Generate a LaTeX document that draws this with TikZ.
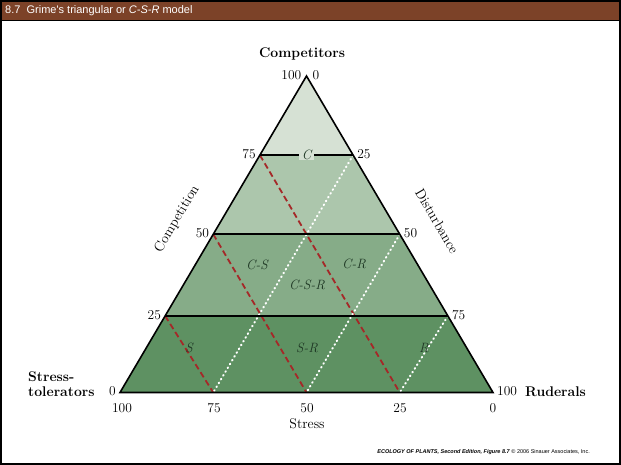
\documentclass[tikz,border=0pt]{standalone}
\usepackage{fontspec}
\newfontfamily\hdfont{Liberation Sans}
\usetikzlibrary{calc}
\definecolor{hdbrown}{RGB}{124,66,40}
\definecolor{zoneA}{RGB}{214,225,212}
\definecolor{zoneB}{RGB}{172,198,172}
\definecolor{zoneC}{RGB}{134,172,136}
\definecolor{zoneD}{RGB}{94,145,98}
\definecolor{redd}{RGB}{165,40,40}
\definecolor{zonetext}{RGB}{30,55,36}
\tikzset{
  tick/.style={font=\fontsize{13.5}{14}\selectfont, inner sep=1pt},
  vlabel/.style={font=\fontsize{14}{15}\selectfont\bfseries, inner sep=0pt},
  axlabel/.style={font=\fontsize{14}{15}\selectfont, inner sep=0pt},
  zlabel/.style={font=\fontsize{13.5}{14}\selectfont\itshape, text=zonetext, inner sep=1pt},
  redline/.style={draw=redd, line width=1.8pt, dash pattern=on 6pt off 3.5pt},
  whiteline/.style={draw=white, line width=2pt, dash pattern=on 0.8pt off 3.6pt, line cap=round},
  blackline/.style={draw=black, line width=1.6pt}
}
\begin{document}
\begin{tikzpicture}[x=1pt,y=-1pt]
\useasboundingbox (0,0) rectangle (621,465);
\fill[white] (0,0) rectangle (621,465);
% header
\fill[hdbrown] (0,0) rectangle (621,21);
\node[anchor=west, text=white, font=\hdfont\fontsize{11}{12}\selectfont, inner sep=0pt] (hd) at (5,10.5) {8.7\ \ Grime's triangular or \textit{C-S-R} model};
\draw[line width=2pt] (1,1) rectangle (620,464);
\draw[line width=1pt] (0,21) -- (621,21);
% triangle
\coordinate (A) at (306.5,76);
\coordinate (BL) at (120,392.5);
\coordinate (BR) at (493,392.5);
\coordinate (L75) at ($(BL)!0.75!(A)$);
\coordinate (L50) at ($(BL)!0.5!(A)$);
\coordinate (L25) at ($(BL)!0.242!(A)$);
\coordinate (R75) at ($(BR)!0.75!(A)$);
\coordinate (R50) at ($(BR)!0.5!(A)$);
\coordinate (R25) at ($(BR)!0.242!(A)$);
\coordinate (B75) at ($(BL)!0.25!(BR)$);
\coordinate (B50) at ($(BL)!0.5!(BR)$);
\coordinate (B25) at ($(BL)!0.75!(BR)$);
\fill[zoneA] (A) -- (L75) -- (R75) -- cycle;
\fill[zoneB] (L75) -- (L50) -- (R50) -- (R75) -- cycle;
\fill[zoneC] (L50) -- (L25) -- (R25) -- (R50) -- cycle;
\fill[zoneD] (L25) -- (BL) -- (BR) -- (R25) -- cycle;
% dashed / dotted
\draw[redline] (L75) -- (B25);
\draw[redline] (L50) -- (B50);
\draw[redline] (L25) -- (B75);
\draw[whiteline] (R75) -- (B75);
\draw[whiteline] (R50) -- (B50);
\draw[whiteline] (R25) -- (B25);
% horizontal lines
\draw[blackline] (L75) -- (R75);
\draw[blackline] (L50) -- (R50);
\draw[blackline] (L25) -- (R25);
\draw[blackline, line join=miter] (A) -- (BL) -- (BR) -- cycle;
% zone labels
\node[zlabel, fill=zoneA, inner xsep=3pt, inner ysep=0pt] (zC) at ($(L75)!0.5!(R75)$) {C};
\node[zlabel] (zCS) at (257,265) {C-S};
\node[zlabel] (zCR) at (354,264) {C-R};
\node[zlabel] (zCSR) at (307,285) {C-S-R};
\node[zlabel] (zS) at (189,348) {S};
\node[zlabel] (zSR) at (307,348) {S-R};
\node[zlabel] (zR) at (424,348) {R};
% vertex labels
\node[vlabel] (comp) at (302,54) {Competitors};
\node[vlabel, anchor=west, align=left] (stol) at (28,384) {Stress-\\tolerators};
\node[vlabel, anchor=west] (rud) at (525,392) {Ruderals};
% side ticks
\node[tick, anchor=east] (t100) at ($(A)+(-4,-1)$) {100};
\node[tick, anchor=west] (t0) at ($(A)+(5,-1)$) {0};
\node[tick, anchor=east] (tl75) at ($(L75)+(-3,-1)$) {75};
\node[tick, anchor=west] (tr25) at ($(R75)+(3,-1)$) {25};
\node[tick, anchor=east] (tl50) at ($(L50)+(-3,-1)$) {50};
\node[tick, anchor=west] (tr50) at ($(R50)+(3,-1)$) {50};
\node[tick, anchor=east] (tl25) at ($(L25)+(-3,-1)$) {25};
\node[tick, anchor=west] (tr75) at ($(R25)+(3,-1)$) {75};
\node[tick, anchor=east] (tl0) at ($(BL)+(-3,-1)$) {0};
\node[tick, anchor=west] (tr100) at ($(BR)+(3,-1)$) {100};
% bottom ticks
\node[tick] (b100) at (122,408) {100};
\node[tick] (b75) at (214,408) {75};
\node[tick] (b50) at (307,408) {50};
\node[tick] (b25) at (400,408) {25};
\node[tick] (b0) at (493,408) {0};
\node[axlabel] (stress) at (307,424) {Stress};
% side labels
\node[axlabel, rotate=59.5] (compn) at (177,219) {Competition};
\node[axlabel, rotate=-59.5] (dist) at (437,221) {Disturbance};
% footer
\node[anchor=east, font=\hdfont\fontsize{5.5}{6}\selectfont, inner sep=0pt] (foot) at (590,452) {\textbf{\textit{ECOLOGY OF PLANTS, Second Edition, Figure 8.7}} \textcopyright\ 2006 Sinauer Associates, Inc.};
\end{tikzpicture}
\end{document}
